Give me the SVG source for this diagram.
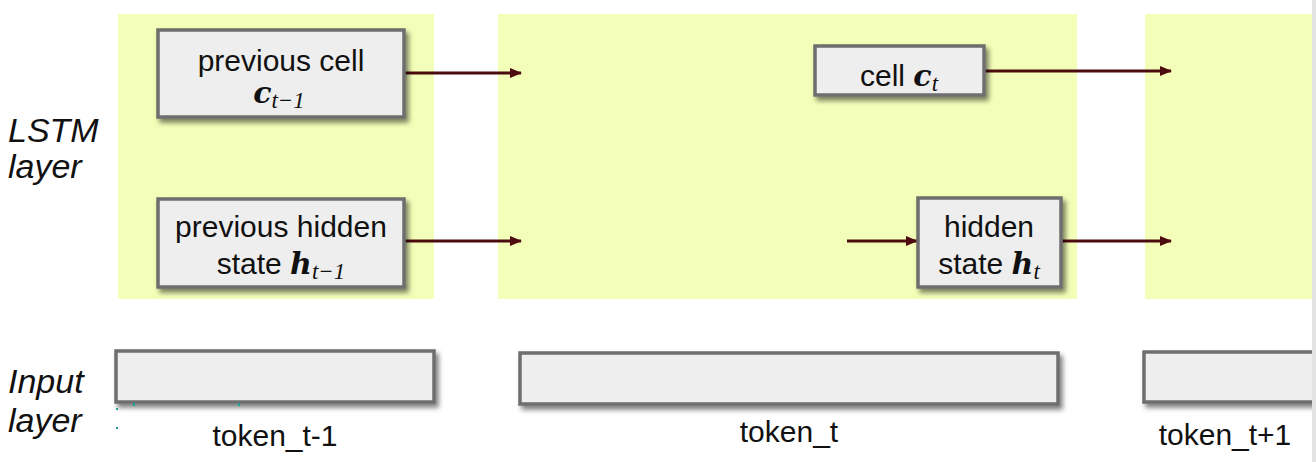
<svg xmlns="http://www.w3.org/2000/svg" width="1316" height="462" viewBox="0 0 1316 462">
<style>
.panel{fill:#f3feb8}
.box{fill:#eeeeee;stroke:#6e6e6e;stroke-width:3.5;filter:url(#sh)}
.t{font-family:"Liberation Sans",Arial,sans-serif;font-size:30px;fill:#111;text-anchor:middle}
.side{font-family:"Liberation Sans",Arial,sans-serif;font-size:34px;font-style:italic;fill:#111}
.m{font-family:"DejaVu Serif","Liberation Serif",serif;font-weight:bold;font-style:italic;font-size:30px}
.s{font-family:"Liberation Serif",serif;font-style:italic;font-weight:normal;font-size:23px}
.conn{stroke:#4d0a0f;stroke-width:3;fill:none;marker-end:url(#ah)}
</style>
<defs>
<filter id="sh" x="-10%" y="-20%" width="125%" height="150%">
<feGaussianBlur in="SourceAlpha" stdDeviation="2.5"/>
<feOffset dx="3" dy="4" result="b"/>
<feComponentTransfer><feFuncA type="linear" slope="0.5"/></feComponentTransfer>
<feMerge><feMergeNode/><feMergeNode in="SourceGraphic"/></feMerge>
</filter>
<marker id="ah" markerWidth="12" markerHeight="10" refX="11" refY="5" orient="auto" markerUnits="userSpaceOnUse">
<path d="M0,0 L12,5 L0,10 z" fill="#4d0a0f"/>
</marker>
</defs>
<rect width="1316" height="462" fill="#ffffff"/>
<g id="panels">
<rect class="panel" x="118" y="14" width="316" height="285"/>
<rect class="panel" x="498" y="14" width="579" height="285"/>
<rect class="panel" x="1145" y="14" width="170" height="285"/>
</g>
<g id="side-labels">
<text class="side" x="8" y="142">LSTM</text>
<text class="side" x="8" y="178">layer</text>
<text class="side" x="8" y="393">Input</text>
<text class="side" x="8" y="432">layer</text>
</g>
<g id="connectors">
<line class="conn" x1="405" y1="73" x2="521" y2="73"/>
<line class="conn" x1="405" y1="241" x2="521" y2="241"/>
<line class="conn" x1="984" y1="71" x2="1171" y2="71"/>
<line class="conn" x1="847" y1="241" x2="917" y2="241"/>
<line class="conn" x1="1062" y1="241" x2="1171" y2="241"/>
</g>
<g id="prev-cell">
<rect class="box" x="158" y="30" width="246" height="87"/>
<text class="t" x="281" y="71">previous cell</text>
<text class="t" x="279" y="103"><tspan class="m">c</tspan><tspan class="s" dy="5">t−1</tspan></text>
</g>
<g id="prev-hidden">
<rect class="box" x="158" y="199" width="246" height="88"/>
<text class="t" x="281" y="237">previous hidden</text>
<text class="t" x="281" y="274">state <tspan class="m">h</tspan><tspan class="s" dy="5">t−1</tspan></text>
</g>
<g id="cell">
<rect class="box" x="815" y="46" width="169" height="49"/>
<text class="t" x="899" y="86">cell <tspan class="m">c</tspan><tspan class="s" dy="5">t</tspan></text>
</g>
<g id="hidden">
<rect class="box" x="918" y="198" width="143" height="89"/>
<text class="t" x="989" y="237">hidden</text>
<text class="t" x="989" y="274">state <tspan class="m">h</tspan><tspan class="s" dy="5">t</tspan></text>
</g>
<g id="input-1">
<rect class="box" x="116" y="351" width="318" height="51"/>
<text class="t" x="275" y="446">token_t-1</text>
</g>
<g id="input-2">
<rect class="box" x="520" y="353" width="538" height="51"/>
<text class="t" x="789" y="442">token_t</text>
</g>
<g id="input-3">
<rect class="box" x="1144" y="352" width="175" height="50"/>
<text class="t" x="1225" y="445">token_t+1</text>
</g>
<g id="marks" fill="#20a090">
<rect x="116" y="408" width="2" height="2"/>
<rect x="133" y="403" width="2" height="3"/>
<rect x="238" y="403" width="2" height="3"/>
<rect x="116" y="427" width="2" height="2"/>
</g>
<rect x="1312" y="0" width="4" height="462" fill="#e3e3e3"/>
</svg>
